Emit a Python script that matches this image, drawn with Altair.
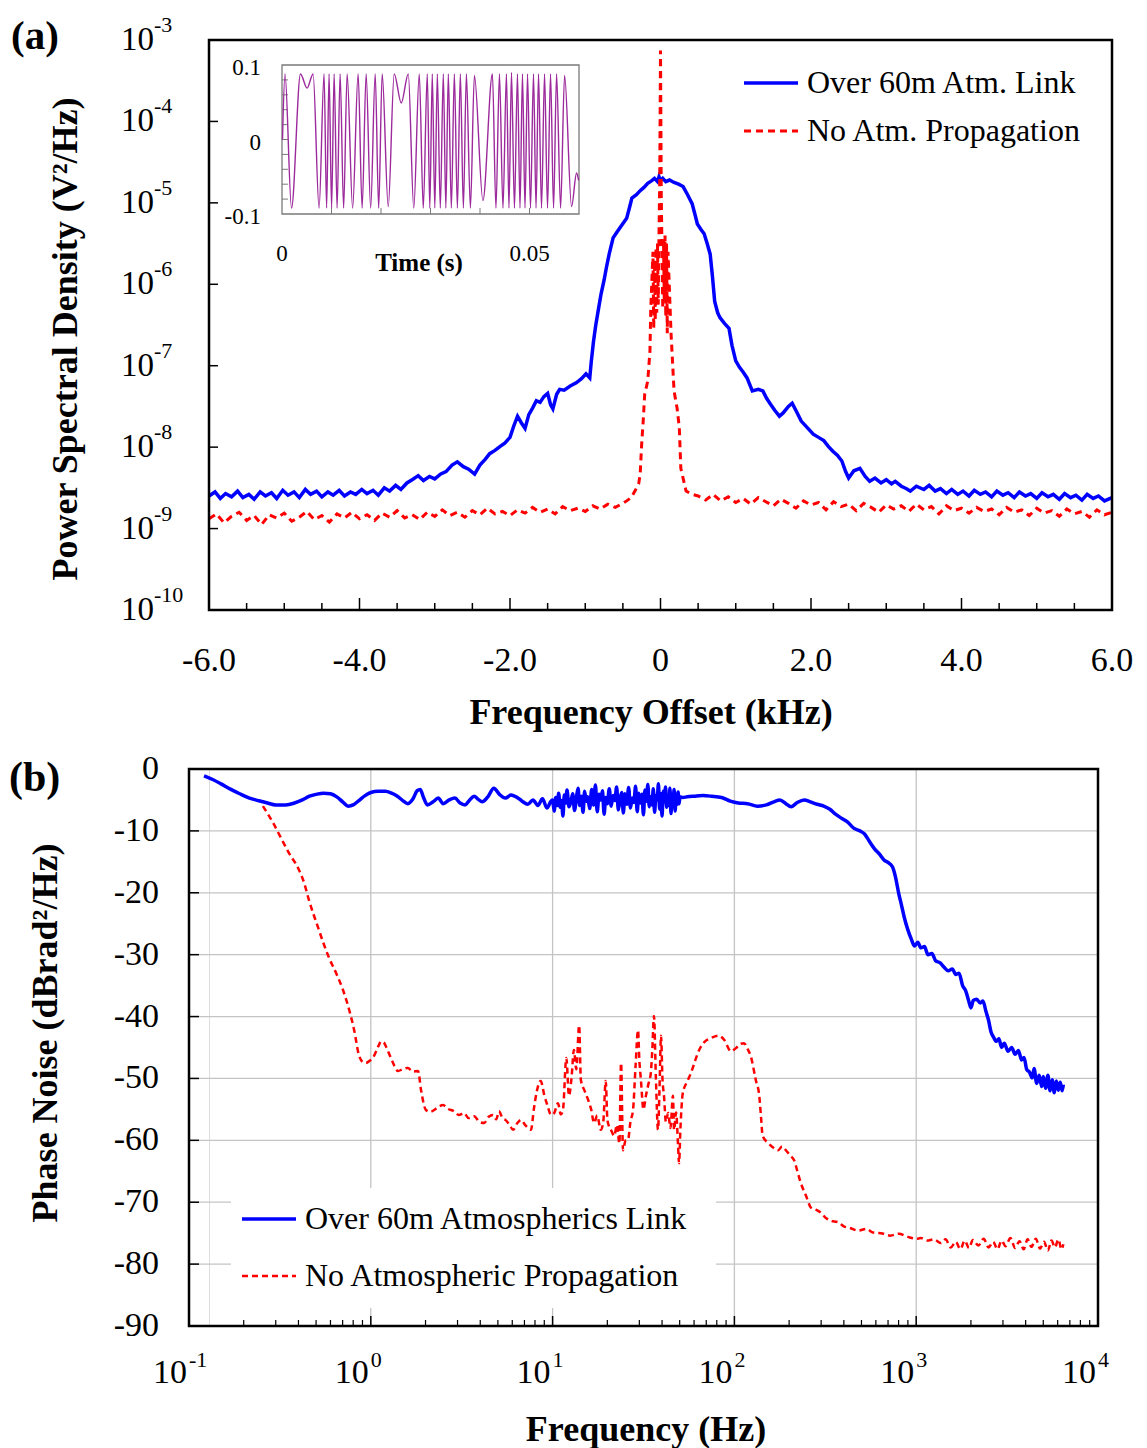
import altair as alt
import pandas as pd

FONT = "Liberation Serif"
BLUE = "#0000ff"
RED = "#ff0000"
PURPLE = "#9c2a9c"

# ---------------- Panel (a): PSD vs frequency offset (kHz, log10 V^2/Hz) ----------------
a_blue = [
    (-6.00, -8.60), (-5.92, -8.55), (-5.85, -8.63), (-5.78, -8.57), (-5.70, -8.61), (-5.62, -8.54),
    (-5.55, -8.62), (-5.47, -8.58), (-5.40, -8.64), (-5.32, -8.55), (-5.25, -8.60), (-5.17, -8.56),
    (-5.10, -8.63), (-5.02, -8.53), (-4.95, -8.59), (-4.87, -8.55), (-4.80, -8.62), (-4.72, -8.52),
    (-4.65, -8.58), (-4.57, -8.54), (-4.50, -8.61), (-4.42, -8.55), (-4.35, -8.59), (-4.27, -8.53),
    (-4.20, -8.60), (-4.12, -8.55), (-4.05, -8.58), (-3.97, -8.52), (-3.90, -8.57), (-3.82, -8.53),
    (-3.75, -8.59), (-3.67, -8.50), (-3.60, -8.54), (-3.52, -8.47), (-3.45, -8.52), (-3.37, -8.44),
    (-3.30, -8.40), (-3.22, -8.35), (-3.15, -8.41), (-3.07, -8.36), (-3.00, -8.39), (-2.92, -8.33),
    (-2.85, -8.30), (-2.77, -8.22), (-2.70, -8.18), (-2.62, -8.24), (-2.55, -8.27), (-2.47, -8.33),
    (-2.40, -8.22), (-2.33, -8.15), (-2.27, -8.08), (-2.20, -8.04), (-2.13, -7.99), (-2.07, -7.95),
    (-2.00, -7.88), (-1.95, -7.74), (-1.90, -7.62), (-1.85, -7.70), (-1.80, -7.77), (-1.75, -7.60),
    (-1.70, -7.52), (-1.65, -7.43), (-1.60, -7.45), (-1.55, -7.38), (-1.50, -7.34), (-1.46, -7.48),
    (-1.43, -7.53), (-1.38, -7.35), (-1.34, -7.29), (-1.28, -7.30), (-1.20, -7.25), (-1.12, -7.21),
    (-1.05, -7.16), (-0.99, -7.10), (-0.94, -7.15), (-0.92, -6.95), (-0.89, -6.70), (-0.86, -6.50),
    (-0.82, -6.28), (-0.79, -6.12), (-0.75, -5.95), (-0.72, -5.80), (-0.68, -5.62), (-0.63, -5.43),
    (-0.58, -5.36), (-0.52, -5.28), (-0.45, -5.19), (-0.41, -5.05), (-0.38, -4.94), (-0.32, -4.90),
    (-0.27, -4.85), (-0.22, -4.81), (-0.17, -4.76), (-0.12, -4.73), (-0.08, -4.70), (-0.04, -4.74),
    (-0.02, -4.68), (0.00, -4.73), (0.03, -4.70), (0.07, -4.74), (0.12, -4.72), (0.18, -4.75),
    (0.24, -4.77), (0.30, -4.80), (0.36, -4.90), (0.42, -5.01), (0.46, -5.15), (0.49, -5.26),
    (0.54, -5.33), (0.58, -5.38), (0.62, -5.50), (0.66, -5.63), (0.69, -5.90), (0.72, -6.21),
    (0.76, -6.35), (0.79, -6.41), (0.85, -6.48), (0.91, -6.54), (0.95, -6.75), (1.00, -6.94),
    (1.05, -7.02), (1.10, -7.08), (1.15, -7.15), (1.22, -7.31), (1.30, -7.29), (1.36, -7.31),
    (1.41, -7.40), (1.46, -7.47), (1.52, -7.55), (1.58, -7.62), (1.63, -7.58), (1.70, -7.50),
    (1.75, -7.46), (1.80, -7.55), (1.87, -7.68), (1.95, -7.76), (2.03, -7.84), (2.10, -7.88),
    (2.17, -7.92), (2.23, -7.99), (2.29, -8.05), (2.35, -8.10), (2.41, -8.17), (2.46, -8.30),
    (2.50, -8.38), (2.57, -8.29), (2.65, -8.26), (2.72, -8.36), (2.78, -8.42), (2.85, -8.38),
    (2.93, -8.44), (3.00, -8.40), (3.07, -8.45), (3.12, -8.42), (3.20, -8.48), (3.27, -8.51),
    (3.32, -8.54), (3.40, -8.48), (3.50, -8.52), (3.57, -8.47), (3.65, -8.54), (3.72, -8.51),
    (3.80, -8.57), (3.87, -8.52), (3.95, -8.58), (4.02, -8.54), (4.10, -8.60), (4.17, -8.53),
    (4.25, -8.58), (4.32, -8.55), (4.40, -8.61), (4.47, -8.54), (4.55, -8.59), (4.62, -8.56),
    (4.70, -8.62), (4.77, -8.55), (4.85, -8.60), (4.92, -8.57), (5.00, -8.63), (5.07, -8.56),
    (5.15, -8.61), (5.22, -8.58), (5.30, -8.64), (5.37, -8.57), (5.45, -8.62), (5.52, -8.59),
    (5.60, -8.65), (5.67, -8.58), (5.75, -8.63), (5.82, -8.60), (5.90, -8.66), (6.00, -8.62),
]

a_red = [
    (-6.0, -8.88), (-5.9, -8.82), (-5.8, -8.93), (-5.7, -8.85), (-5.6, -8.80), (-5.5, -8.90),
    (-5.4, -8.84), (-5.3, -8.95), (-5.2, -8.83), (-5.1, -8.87), (-5.0, -8.81), (-4.9, -8.91),
    (-4.8, -8.86), (-4.7, -8.79), (-4.6, -8.89), (-4.5, -8.84), (-4.4, -8.92), (-4.3, -8.82),
    (-4.2, -8.87), (-4.1, -8.80), (-4.0, -8.88), (-3.9, -8.83), (-3.8, -8.90), (-3.7, -8.81),
    (-3.6, -8.86), (-3.5, -8.78), (-3.4, -8.87), (-3.3, -8.83), (-3.2, -8.89), (-3.1, -8.80),
    (-3.0, -8.85), (-2.9, -8.77), (-2.8, -8.84), (-2.7, -8.80), (-2.6, -8.86), (-2.5, -8.78),
    (-2.4, -8.83), (-2.3, -8.75), (-2.2, -8.82), (-2.1, -8.79), (-2.0, -8.84), (-1.9, -8.77),
    (-1.8, -8.81), (-1.7, -8.74), (-1.6, -8.80), (-1.5, -8.76), (-1.4, -8.82), (-1.3, -8.73),
    (-1.2, -8.78), (-1.1, -8.75), (-1.0, -8.79), (-0.9, -8.72), (-0.8, -8.76), (-0.7, -8.70),
    (-0.6, -8.74), (-0.5, -8.69),
    (-0.45, -8.66), (-0.39, -8.62), (-0.34, -8.54), (-0.29, -8.45), (-0.27, -8.33), (-0.25, -7.96),
    (-0.23, -7.68), (-0.21, -7.35), (-0.17, -7.19), (-0.14, -6.82), (-0.13, -6.33), (-0.11, -5.84),
    (-0.10, -5.60), (-0.09, -6.55), (-0.08, -5.70), (-0.07, -6.45), (-0.06, -5.55), (-0.05, -6.35),
    (-0.04, -5.50), (-0.03, -6.25), (-0.02, -5.40), (-0.01, -4.70), (0.00, -3.13), (0.01, -4.90),
    (0.02, -5.60), (0.03, -6.30), (0.04, -5.45), (0.05, -6.20), (0.06, -5.40), (0.07, -6.40),
    (0.08, -5.50), (0.09, -6.60), (0.10, -5.60), (0.12, -6.10), (0.14, -6.60), (0.18, -7.31),
    (0.22, -7.52), (0.25, -7.76), (0.27, -8.26), (0.31, -8.42), (0.34, -8.54), (0.42, -8.58),
    (0.5, -8.60), (0.6, -8.65), (0.7, -8.58), (0.8, -8.66), (0.9, -8.61), (1.0, -8.68),
    (1.1, -8.63), (1.2, -8.70), (1.3, -8.62), (1.4, -8.67), (1.5, -8.72), (1.6, -8.64),
    (1.7, -8.69), (1.8, -8.75), (1.9, -8.66), (2.0, -8.71), (2.1, -8.68), (2.2, -8.77),
    (2.3, -8.67), (2.4, -8.73), (2.5, -8.70), (2.6, -8.78), (2.7, -8.69), (2.8, -8.74),
    (2.9, -8.80), (3.0, -8.71), (3.1, -8.76), (3.2, -8.72), (3.3, -8.79), (3.4, -8.70),
    (3.5, -8.77), (3.6, -8.73), (3.7, -8.82), (3.8, -8.72), (3.9, -8.78), (4.0, -8.75),
    (4.1, -8.81), (4.2, -8.74), (4.3, -8.79), (4.4, -8.76), (4.5, -8.83), (4.6, -8.74),
    (4.7, -8.80), (4.8, -8.77), (4.9, -8.84), (5.0, -8.75), (5.1, -8.81), (5.2, -8.78),
    (5.3, -8.85), (5.4, -8.76), (5.5, -8.82), (5.6, -8.79), (5.7, -8.86), (5.8, -8.77),
    (5.9, -8.83), (6.0, -8.80),
]

# inset: time (s), signal (V)
inset_wave = [
    (0.00010, 0.000), (0.00061, 0.088), (0.00192, -0.092), (0.00374, 0.088), (0.00506, 0.069),
    (0.00628, 0.088), (0.00749, -0.092), (0.00850, 0.088), (0.00901, -0.092), (0.00951, 0.088),
    (0.01002, -0.092), (0.01053, 0.088), (0.01113, -0.092), (0.01174, 0.088), (0.01245, -0.092),
    (0.01316, 0.088), (0.01427, -0.092), (0.01538, 0.088), (0.01619, -0.092), (0.01700, 0.088),
    (0.01791, -0.092), (0.01883, 0.088), (0.01953, -0.092), (0.02024, 0.088), (0.02146, -0.090),
    (0.02267, 0.088), (0.02409, 0.049), (0.02551, 0.088), (0.02662, -0.092), (0.02773, 0.088),
    (0.02854, -0.092), (0.02935, 0.088), (0.02986, -0.092), (0.03036, 0.088), (0.03087, -0.092),
    (0.03138, 0.088), (0.03198, -0.092), (0.03259, 0.088), (0.03310, -0.092), (0.03360, 0.088),
    (0.03421, -0.092), (0.03482, 0.088), (0.03543, -0.092), (0.03603, 0.088), (0.03664, -0.092),
    (0.03725, 0.088), (0.03806, -0.092), (0.03887, 0.086), (0.04059, -0.082), (0.04251, 0.088),
    (0.04322, -0.092), (0.04393, 0.088), (0.04464, -0.092), (0.04534, 0.088), (0.04585, -0.092),
    (0.04636, 0.090), (0.04696, -0.092), (0.04757, 0.088), (0.04808, -0.092), (0.04858, 0.088),
    (0.04909, -0.092), (0.04960, 0.088), (0.05020, -0.092), (0.05081, 0.088), (0.05132, -0.092),
    (0.05182, 0.088), (0.05243, -0.092), (0.05304, 0.088), (0.05364, -0.092), (0.05425, 0.088),
    (0.05486, -0.092), (0.05547, 0.088), (0.05628, -0.092), (0.05709, 0.086), (0.05850, -0.090),
    (0.05951, -0.045), (0.05992, -0.055),
]

# ---------------- Panel (b): phase noise (Hz, dBrad^2/Hz) ----------------
b_blue = [
    (0.121, -1.1), (0.135, -1.7), (0.15, -2.4), (0.17, -3.3), (0.19, -4.0), (0.215, -4.7),
    (0.24, -5.1), (0.27, -5.5), (0.30, -5.8), (0.34, -5.8), (0.38, -5.5), (0.42, -5.0),
    (0.46, -4.4), (0.50, -4.1), (0.55, -3.9), (0.60, -4.0), (0.65, -4.5), (0.70, -5.3),
    (0.75, -6.0), (0.80, -5.8), (0.86, -5.1), (0.93, -4.3), (1.0, -3.8), (1.1, -3.6),
    (1.2, -3.6), (1.3, -3.9), (1.4, -4.4), (1.5, -5.1), (1.6, -5.6), (1.7, -4.9),
    (1.8, -3.5), (1.87, -3.3), (1.95, -4.6), (2.05, -5.8), (2.2, -5.3), (2.35, -4.7),
    (2.5, -5.6), (2.7, -5.0), (2.9, -4.7), (3.1, -5.5), (3.3, -5.8), (3.5, -5.0),
    (3.7, -4.4), (3.9, -4.9), (4.1, -5.3), (4.4, -4.5), (4.75, -3.1), (5.1, -4.1),
    (5.5, -4.7), (5.9, -4.2), (6.3, -4.5), (6.8, -5.2), (7.3, -5.7), (7.8, -5.0),
    (8.3, -5.9), (8.8, -4.8), (9.3, -6.3), (9.8, -5.2),
    (10.0, -5.0), (10.2, -6.8), (10.4, -4.6), (10.6, -5.9), (10.8, -3.9), (11.0, -6.2),
    (11.2, -5.1), (11.4, -7.6), (11.6, -4.2), (11.8, -5.5), (12.0, -3.4), (12.3, -6.1),
    (12.6, -5.3), (12.9, -4.0), (13.2, -6.7), (13.5, -4.8), (13.8, -3.1), (14.1, -5.9),
    (14.4, -4.4), (14.7, -7.0), (15.0, -3.6), (15.3, -5.2), (15.6, -4.5), (16.0, -6.4),
    (16.4, -3.3), (16.8, -5.8), (17.2, -2.6), (17.6, -6.9), (18.0, -4.1), (18.4, -5.0),
    (18.8, -3.5), (19.2, -7.3), (19.6, -4.6), (20.0, -5.6), (20.5, -3.2), (21.0, -6.0),
    (21.5, -4.3), (22.0, -5.1), (22.5, -2.9), (23.0, -6.6), (23.5, -4.9), (24.0, -3.8),
    (24.5, -7.1), (25.0, -4.0), (25.6, -5.7), (26.2, -3.0), (26.8, -6.3), (27.4, -4.7),
    (28.0, -5.4), (28.6, -2.8), (29.2, -6.9), (29.8, -3.9), (30.4, -5.5), (31.0, -4.1),
    (31.6, -7.4), (32.2, -3.4), (32.8, -5.2), (33.4, -2.5), (34.0, -6.1), (34.6, -4.5),
    (35.2, -5.8), (35.8, -3.2), (36.4, -7.0), (37.0, -4.3), (37.6, -5.0), (38.2, -2.4),
    (38.8, -6.5), (39.4, -4.0), (40.0, -7.6), (40.6, -3.6), (41.2, -5.3), (41.8, -2.9),
    (42.4, -6.2), (43.0, -4.6), (43.6, -5.9), (44.2, -3.1), (44.8, -7.2), (45.4, -4.2),
    (46.0, -5.5), (46.6, -3.3), (47.2, -6.8), (47.8, -4.4), (48.4, -5.7), (49.0, -3.7),
    (49.6, -5.6), (50.2, -4.5),
    (52, -4.6), (55, -4.5), (60, -4.4), (67, -4.3), (75, -4.4), (85, -4.6), (95, -5.2),
    (105, -5.5), (118, -5.6), (134, -6.0), (150, -5.8), (165, -5.3), (178, -5.0), (192, -5.6),
    (205, -6.1), (222, -5.4), (242, -5.0), (262, -5.3), (285, -5.7), (310, -6.0), (335, -6.5),
    (360, -7.3), (390, -8.0), (420, -8.6), (455, -9.6), (490, -10.0), (520, -10.5), (550, -11.6),
    (590, -12.9), (630, -13.8), (665, -14.7), (700, -15.1), (740, -15.8), (770, -17.5),
    (800, -20.0), (830, -22.0), (860, -24.0), (900, -26.0), (940, -27.5), (980, -28.6),
    (1020, -28.0), (1062, -28.9), (1110, -28.7), (1161, -30.0), (1220, -29.8), (1280, -31.0),
    (1350, -31.3), (1420, -32.0), (1500, -32.6), (1580, -32.3), (1650, -33.2), (1720, -33.0),
    (1800, -35.0), (1870, -35.8), (1950, -37.6), (2000, -38.6), (2060, -37.4), (2150, -37.2),
    (2250, -37.8), (2330, -37.5), (2420, -39.2), (2500, -40.6), (2580, -42.5), (2660, -43.3),
    (2760, -44.0), (2850, -43.6), (2950, -45.0), (3050, -44.3), (3200, -45.6), (3350, -45.0),
    (3500, -46.1), (3650, -45.5), (3800, -47.0), (3920, -46.6), (4050, -48.5), (4200, -49.0),
    (4350, -49.9), (4450, -48.4), (4600, -50.8), (4750, -49.5), (4900, -51.3), (5000, -49.7),
    (5150, -51.6), (5300, -49.5), (5450, -52.0), (5600, -50.2), (5750, -52.3), (5900, -50.4),
    (6050, -51.9), (6200, -50.6), (6350, -52.0), (6450, -51.0),
]

b_red = [
    (0.255, -6.0), (0.29, -8.7), (0.32, -11.1), (0.355, -13.6), (0.398, -16.0), (0.43, -18.4),
    (0.457, -21.2), (0.51, -25.4), (0.553, -28.4), (0.589, -30.5), (0.645, -33.0), (0.703, -35.7),
    (0.76, -38.9), (0.81, -42.2), (0.86, -46.2), (0.90, -47.3), (0.94, -47.5), (0.98, -47.2),
    (1.04, -46.4), (1.10, -44.8), (1.14, -44.0), (1.18, -44.2), (1.21, -44.8), (1.29, -46.7),
    (1.35, -48.0), (1.41, -48.8), (1.5, -48.5), (1.6, -48.3), (1.7, -48.9), (1.82, -48.8),
    (1.89, -51.9), (2.01, -55.1), (2.12, -55.4), (2.23, -55.1), (2.35, -54.6), (2.5, -54.3),
    (2.65, -54.9), (2.87, -55.3), (3.05, -55.9), (3.26, -55.6), (3.45, -56.4), (3.7, -56.1),
    (3.95, -57.0), (4.2, -57.2), (4.45, -56.2), (4.7, -55.9), (4.9, -56.6), (5.07, -55.3),
    (5.3, -56.4), (5.5, -56.7), (5.8, -57.5), (6.06, -58.3), (6.4, -57.2), (6.7, -56.7),
    (7.1, -57.6), (7.6, -58.3), (7.9, -54.8), (8.2, -52.0), (8.6, -50.4), (9.0, -52.7),
    (9.4, -54.5), (9.8, -55.9), (10.2, -55.6), (10.7, -54.0), (11.1, -55.8), (11.4, -55.1),
    (11.9, -46.7), (12.3, -52.8), (12.7, -50.0), (13.1, -45.4), (13.5, -48.5), (14.0, -41.4),
    (14.3, -50.2), (15.0, -52.0), (15.7, -53.5), (16.3, -55.0), (16.9, -57.2), (17.6, -56.0),
    (18.4, -58.3), (19.0, -57.0), (19.6, -50.4), (20.0, -56.5), (20.4, -57.7), (21.1, -58.5),
    (21.8, -59.3), (22.6, -57.5), (23.3, -60.5), (23.8, -47.5), (24.4, -61.6), (25.2, -60.0),
    (26.0, -59.9), (26.8, -57.0), (27.7, -55.1), (28.6, -48.0), (29.5, -42.2), (30.0, -47.0),
    (30.6, -50.2), (31.6, -55.0), (32.6, -52.8), (33.6, -51.0), (34.7, -49.1), (35.4, -45.0),
    (36.1, -39.9), (37.0, -50.0), (38.0, -58.3), (38.7, -52.0), (39.5, -43.1), (40.2, -50.0),
    (41.0, -52.8), (42.0, -57.0), (43.2, -55.6), (44.5, -58.0), (45.9, -52.8), (46.6, -58.3),
    (47.8, -55.5), (49.0, -60.9), (49.6, -63.7), (50.5, -58.0), (52, -52.4), (55, -50.5),
    (57.7, -49.1), (61, -47.0), (64, -45.4), (69, -44.0), (74, -43.5), (82, -43.1),
    (88, -43.8), (95.6, -45.6), (102, -45.1), (108, -44.4), (113, -44.3), (118, -45.2),
    (123, -46.4), (131, -50.2), (137, -52.8), (140, -56.1), (143, -59.3), (153, -60.4),
    (164, -61.2), (174, -61.6), (183, -61.0), (192, -61.6), (203, -62.5), (213, -63.2),
    (222, -65.0), (232, -66.9), (248, -69.0), (264, -70.9), (280, -71.2), (299, -71.7),
    (320, -72.6), (339, -73.0), (370, -73.2), (400, -73.9), (437, -74.2), (480, -74.6),
    (530, -74.3), (580, -74.9), (640, -75.0), (720, -75.4), (800, -75.1), (900, -75.6),
    (1000, -75.9), (1062, -75.8), (1150, -76.2), (1250, -76.0), (1368, -76.6), (1450, -76.0),
    (1550, -77.3), (1650, -76.4), (1750, -77.6), (1850, -76.2), (1950, -77.4), (2050, -76.1),
    (2200, -77.0), (2350, -75.9), (2500, -77.3), (2650, -76.4), (2800, -77.6), (2950, -76.2),
    (3100, -77.1), (3300, -75.8), (3500, -77.4), (3700, -76.3), (3900, -77.6), (4100, -76.0),
    (4300, -77.2), (4550, -75.9), (4800, -77.5), (5050, -76.4), (5300, -77.8), (5550, -76.2),
    (5800, -77.3), (6050, -76.0), (6300, -77.6), (6450, -76.8),
]

# ---------------- ticks and labels ----------------
a_ytick_vals = [1e-9, 1e-8, 1e-7, 1e-6, 1e-5, 1e-4]
a_ylabel_vals = [1e-10, 1e-9, 1e-8, 1e-7, 1e-6, 1e-5, 1e-4, 1e-3]
a_ylabel_exp = ["-10", "-9", "-8", "-7", "-6", "-5", "-4", "-3"]
a_xtick_major = [-4, -2, 0, 2, 4]
a_xtick_minor = [-5.5, -5, -4.5, -3.5, -3, -2.5, -1.5, -1, -0.5, 0.5, 1, 1.5, 2.5, 3, 3.5, 4.5, 5, 5.5]
a_xlabel_vals = [-6, -4, -2, 0, 2, 4, 6]
a_xlabel_text = ["-6.0", "-4.0", "-2.0", "0", "2.0", "4.0", "6.0"]

inset_ytick_vals = [-0.08, -0.06, -0.04, -0.02, 0.0, 0.02, 0.04, 0.06, 0.08]
inset_xtick_vals = [0.01, 0.02, 0.03, 0.04, 0.05]
inset_ylabel_vals = [0.1, 0.0, -0.1]
inset_ylabel_text = ["0.1", "0", "-0.1"]
inset_xlabel_vals = [0.0, 0.05]
inset_xlabel_text = ["0", "0.05"]

b_y_vals = [0, -10, -20, -30, -40, -50, -60, -70, -80, -90]
b_y_text = ["0", "-10", "-20", "-30", "-40", "-50", "-60", "-70", "-80", "-90"]
b_grid_y = [-10, -20, -30, -40, -50, -60, -70, -80]
b_grid_x = [1, 10, 100, 1000]
b_xlabel_vals = [0.1, 1, 10, 100, 1000, 10000]
b_xlabel_exp = ["-1", "0", "1", "2", "3", "4"]
b_xtick_minor = [m * d for d in [0.1, 1, 10, 100, 1000] for m in range(2, 10)]

# ---------------- helpers ----------------
ONE = pd.DataFrame({"k": [0]})


def text(t, x, y, size, weight="normal", align="left", angle=None, baseline="middle"):
    kw = dict(text=t, font=FONT, fontSize=size, fontWeight=weight, align=align,
              baseline=baseline, color="black")
    if angle is not None:
        kw["angle"] = angle
    return alt.Chart(ONE).mark_text(**kw).encode(x=alt.value(x), y=alt.value(y))


def seg(x1, x2, y, color, width, dash=None, opacity=1):
    kw = dict(color=color, strokeWidth=width, strokeOpacity=opacity)
    if dash:
        kw["strokeDash"] = dash
    return alt.Chart(ONE).mark_rule(**kw).encode(x=alt.value(x1), x2=alt.value(x2), y=alt.value(y))


# ---------------- panel (a) ----------------
xa = alt.Scale(domain=[-6, 6], nice=False, zero=False)
ya = alt.Scale(type="log", domain=[1e-10, 1e-3], nice=False)

df_ab = pd.DataFrame(a_blue, columns=["khz", "log_psd"])
df_ab["psd"] = 10 ** df_ab["log_psd"]
df_ar = pd.DataFrame(a_red, columns=["khz", "log_psd"])
df_ar["psd"] = 10 ** df_ar["log_psd"]

XA = lambda f: alt.X(f, scale=xa, axis=None)
YA = lambda f: alt.Y(f, scale=ya, axis=None)

a_blue_line = alt.Chart(df_ab).mark_line(color=BLUE, strokeWidth=3.5).encode(x=XA("khz:Q"), y=YA("psd:Q"))
a_red_line = alt.Chart(df_ar).mark_line(color=RED, strokeWidth=3, strokeDash=[7, 5]).encode(
    x=XA("khz:Q"), y=YA("psd:Q"))

a_frame = alt.Chart(ONE).mark_rect(fill="white", fillOpacity=0, stroke="black", strokeWidth=2.5).encode(
    x=alt.XDatum(-6, scale=xa, axis=None), x2=alt.X2Datum(6),
    y=alt.YDatum(1e-10, scale=ya, axis=None), y2=alt.Y2Datum(1e-3))

a_yticks = alt.Chart(pd.DataFrame({"v": a_ytick_vals})).mark_rule(color="black", strokeWidth=1.5).encode(
    y=YA("v:Q"), x=alt.value(0), x2=alt.value(9))
a_xminor = alt.Chart(pd.DataFrame({"v": a_xtick_minor})).mark_rule(color="black", strokeWidth=1.5).encode(
    x=XA("v:Q"), y=alt.value(570), y2=alt.value(563))
a_xmajor = alt.Chart(pd.DataFrame({"v": a_xtick_major})).mark_rule(color="black", strokeWidth=1.5).encode(
    x=XA("v:Q"), y=alt.value(570), y2=alt.value(558))

df_aylab = pd.DataFrame({"v": a_ylabel_vals, "exp": a_ylabel_exp})
a_ylab_base = alt.Chart(df_aylab).mark_text(font=FONT, fontSize=33, align="left", baseline="middle",
                                            text="10", color="black").encode(y=YA("v:Q"), x=alt.value(-88))
a_ylab_exp = alt.Chart(df_aylab).mark_text(font=FONT, fontSize=22, align="left", baseline="middle",
                                           dy=-15, color="black").encode(
    y=YA("v:Q"), x=alt.value(-55), text="exp:N")
a_xlab = alt.Chart(pd.DataFrame({"v": a_xlabel_vals, "t": a_xlabel_text})).mark_text(
    font=FONT, fontSize=34, align="center", baseline="middle", color="black").encode(
    x=XA("v:Q"), y=alt.value(621), text="t:N")

a_main = alt.layer(
    a_blue_line, a_red_line, a_frame, a_yticks, a_xminor, a_xmajor, a_ylab_base, a_ylab_exp, a_xlab,
    text("Frequency Offset (kHz)", 442, 673, 36, "bold", "center"),
    text("Power Spectral Density (V\u00b2/Hz)", -143, 299, 36, "bold", "center", angle=270),
    text("(a)", -198, -3, 41, "bold"),
    seg(535, 589, 43, BLUE, 3.5),
    text("Over 60m Atm. Link", 598, 43, 32),
    seg(535, 589, 91, RED, 3, [7, 5]),
    text("No Atm. Propagation", 598, 91, 32),
    seg(-200, -190, -31, "white", 1, opacity=0),
    seg(0, 10, 700, "white", 1, opacity=0),
)

# inset
xi = alt.Scale(domain=[0, 0.06], range=[73, 370], nice=False, zero=False)
yi = alt.Scale(domain=[-0.1, 0.1], range=[174, 25], nice=False, zero=False)
XI = lambda f: alt.X(f, scale=xi, axis=None)
YI = lambda f: alt.Y(f, scale=yi, axis=None)

df_in = pd.DataFrame(inset_wave, columns=["t", "v"])
in_frame = alt.Chart(ONE).mark_rect(fill="white", stroke="#7a7a7a", strokeWidth=1.3).encode(
    x=alt.XDatum(0, scale=xi, axis=None), x2=alt.X2Datum(0.06),
    y=alt.YDatum(-0.1, scale=yi, axis=None), y2=alt.Y2Datum(0.1))
in_yt = alt.Chart(pd.DataFrame({"v": inset_ytick_vals})).mark_rule(color="#7a7a7a", strokeWidth=1).encode(
    y=YI("v:Q"), x=alt.XDatum(0, scale=xi, axis=None), x2=alt.X2Datum(0.0012))
in_xt = alt.Chart(pd.DataFrame({"v": inset_xtick_vals})).mark_rule(color="#7a7a7a", strokeWidth=1).encode(
    x=XI("v:Q"), y=alt.YDatum(-0.1, scale=yi, axis=None), y2=alt.Y2Datum(-0.092))
in_line = alt.Chart(df_in).mark_line(color=PURPLE, strokeWidth=1.4, interpolate="monotone").encode(
    x=XI("t:Q"), y=YI("v:Q"))
in_ylab = alt.Chart(pd.DataFrame({"v": inset_ylabel_vals, "s": inset_ylabel_text})).mark_text(
    font=FONT, fontSize=23, align="right", baseline="middle", dy=3, color="black").encode(
    y=YI("v:Q"), x=alt.value(52), text="s:N")
in_xlab = alt.Chart(pd.DataFrame({"v": inset_xlabel_vals, "s": inset_xlabel_text})).mark_text(
    font=FONT, fontSize=23, align="center", baseline="middle", color="black").encode(
    x=XI("v:Q"), y=alt.value(214), text="s:N")

a_inset = alt.layer(in_frame, in_yt, in_xt, in_line, in_ylab, in_xlab,
                    text("Time (s)", 210, 223, 25, "bold", "center"))

panel_a = alt.layer(a_main, a_inset).resolve_scale(x="independent", y="independent").properties(
    width=903, height=570)

# ---------------- panel (b) ----------------
xb = alt.Scale(type="log", domain=[0.1, 10000], range=[-20, 889], nice=False)
yb = alt.Scale(domain=[-90, 0], nice=False, zero=False)
XB = lambda f: alt.X(f, scale=xb, axis=None)
YB = lambda f: alt.Y(f, scale=yb, axis=None)

df_bb = pd.DataFrame(b_blue, columns=["hz", "db"])
df_br = pd.DataFrame(b_red, columns=["hz", "db"])

GRID = "#c4c4c4"
b_gx = alt.Chart(pd.DataFrame({"v": b_grid_x})).mark_rule(color=GRID, strokeWidth=1.3).encode(
    x=XB("v:Q"), y=alt.YDatum(-90, scale=yb, axis=None), y2=alt.Y2Datum(0))
b_gy = alt.Chart(pd.DataFrame({"v": b_grid_y})).mark_rule(color=GRID, strokeWidth=1.3).encode(
    y=YB("v:Q"), x=alt.XDatum(0.1, scale=xb, axis=None), x2=alt.X2Datum(10000))
b_legbg = alt.Chart(ONE).mark_rect(color="white").encode(
    x=alt.value(22), x2=alt.value(507), y=alt.value(419), y2=alt.value(539))
b_blue_line = alt.Chart(df_bb).mark_line(color=BLUE, strokeWidth=3.5, interpolate="monotone").encode(
    x=XB("hz:Q"), y=YB("db:Q"))
b_red_line = alt.Chart(df_br).mark_line(color=RED, strokeWidth=2.5, strokeDash=[6, 4],
                                        interpolate="monotone").encode(x=XB("hz:Q"), y=YB("db:Q"))
b_frame = alt.Chart(ONE).mark_rect(fill="white", fillOpacity=0, stroke="black", strokeWidth=2.5).encode(
    x=alt.XDatum(0.1, scale=xb, axis=None), x2=alt.X2Datum(10000),
    y=alt.YDatum(-90, scale=yb, axis=None), y2=alt.Y2Datum(0))
b_yticks = alt.Chart(pd.DataFrame({"v": b_grid_y})).mark_rule(color="black", strokeWidth=1.5).encode(
    y=YB("v:Q"), x=alt.value(-20), x2=alt.value(-10))
b_xminor = alt.Chart(pd.DataFrame({"v": b_xtick_minor})).mark_rule(color="black", strokeWidth=1.2).encode(
    x=XB("v:Q"), y=alt.value(557), y2=alt.value(551))
b_xmajor = alt.Chart(pd.DataFrame({"v": b_grid_x})).mark_rule(color="black", strokeWidth=1.5).encode(
    x=XB("v:Q"), y=alt.value(557), y2=alt.value(547))
b_ylab = alt.Chart(pd.DataFrame({"v": b_y_vals, "s": b_y_text})).mark_text(
    font=FONT, fontSize=34, align="right", baseline="middle", color="black").encode(
    y=YB("v:Q"), x=alt.value(-50), text="s:N")
df_bxl = pd.DataFrame({"v": b_xlabel_vals, "exp": b_xlabel_exp})
b_xlab_base = alt.Chart(df_bxl).mark_text(font=FONT, fontSize=34, align="right", baseline="middle",
                                          dx=-2, text="10", color="black").encode(
    x=XB("v:Q"), y=alt.value(604))
b_xlab_exp = alt.Chart(df_bxl).mark_text(font=FONT, fontSize=22, align="left", baseline="middle",
                                         dx=0, color="black").encode(
    x=XB("v:Q"), y=alt.value(591), text="exp:N")

panel_b = alt.layer(
    b_gx, b_gy, b_legbg, b_blue_line, b_red_line, b_frame, b_yticks, b_xminor, b_xmajor,
    b_ylab, b_xlab_base, b_xlab_exp,
    text("Frequency (Hz)", 437, 661, 36, "bold", "center"),
    text("Phase Noise (dBrad\u00b2/Hz)", -163, 264, 36, "bold", "center", angle=270),
    text("(b)", -200, 9, 42, "bold"),
    seg(33, 87, 450, BLUE, 3.5),
    text("Over 60m Atmospherics Link", 96, 450, 32),
    seg(33, 87, 507, RED, 2.5, [6, 4]),
    text("No Atmospheric Propagation", 96, 507, 32),
    seg(0, 10, -27, "white", 1, opacity=0),
).properties(width=889, height=557)

chart = alt.vconcat(panel_a, panel_b, spacing=0).properties(padding=0).configure_view(
    stroke=None).configure(font=FONT)

chart.save("out.html", embed_options={"renderer": "svg", "actions": False})
